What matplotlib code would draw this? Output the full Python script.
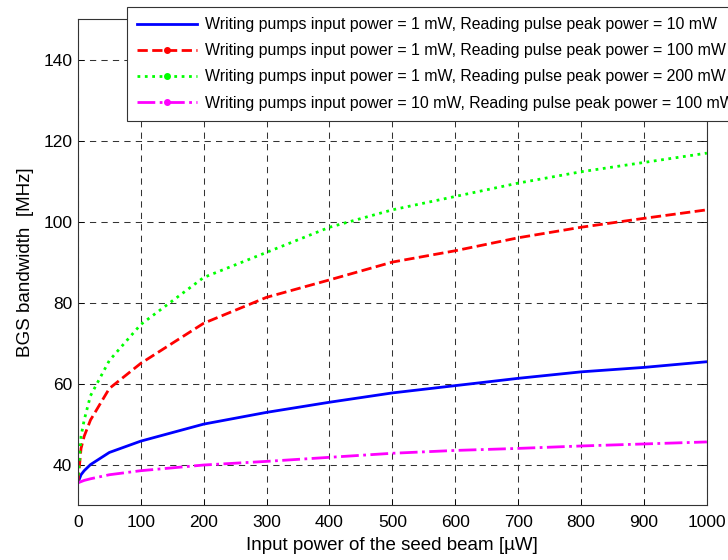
import matplotlib
matplotlib.use("Agg")
import matplotlib.pyplot as plt
from matplotlib.lines import Line2D

plt.rcParams.update({
    'font.family': ['Liberation Sans', 'DejaVu Sans'],
    'font.size': 12,
    'axes.linewidth': 0.8,
    'axes.edgecolor': '#333333',
})

# seed beam input power [uW]
seed_power = [0, 5, 10, 20, 50, 100, 200, 300, 400, 500, 600, 700, 800, 900, 1000]

# BGS bandwidth [MHz] for each pump / reading pulse setting
bw_1mw_10mw = [35.5, 37.5, 38.5, 40.0, 43.0, 45.8, 50.0, 52.9, 55.4, 57.7, 59.5, 61.3, 62.9, 64.0, 65.4]
bw_1mw_100mw = [35.5, 44.0, 47.0, 51.0, 58.8, 65.0, 74.9, 81.3, 85.6, 90.0, 92.8, 96.0, 98.6, 100.8, 102.9]
bw_1mw_200mw = [35.5, 47.0, 51.0, 57.0, 65.7, 74.6, 86.2, 92.4, 98.6, 102.9, 106.2, 109.5, 112.3, 114.6, 116.9]
bw_10mw_100mw = [35.5, 35.8, 36.1, 36.5, 37.5, 38.5, 39.9, 40.8, 41.8, 42.8, 43.5, 44.0, 44.6, 45.1, 45.6]

labels = [
    'Writing pumps input power = 1 mW, Reading pulse peak power = 10 mW',
    'Writing pumps input power = 1 mW, Reading pulse peak power = 100 mW',
    'Writing pumps input power = 1 mW, Reading pulse peak power = 200 mW',
    'Writing pumps input power = 10 mW, Reading pulse peak power = 100 mW',
]

x_ticks = list(range(0, 1001, 100))
y_ticks = [40, 60, 80, 100, 120, 140]

fig = plt.figure(figsize=(7.28, 5.6), dpi=100)
ax = fig.add_axes([0.107, 0.098, 0.864, 0.868])

styles = [
    dict(color='#0000FF', linestyle='-'),
    dict(color='#FF0000', linestyle='--'),
    dict(color='#00FF00', linestyle=':'),
    dict(color='#FF00FF', linestyle='-.'),
]
series = [bw_1mw_10mw, bw_1mw_100mw, bw_1mw_200mw, bw_10mw_100mw]

for values, st in zip(series, styles):
    ax.plot(seed_power, values, linewidth=2.0, **st)

ax.set_xlim(0, 1000)
ax.set_ylim(30, 150)
ax.set_xticks(x_ticks)
ax.set_yticks(y_ticks)
ax.tick_params(direction='in', length=4, width=0.6, top=True, right=True,
               labelsize=12.5)
ax.tick_params(axis='x', pad=7)
ax.tick_params(axis='y', pad=4)
ax.grid(True, color='#333333', linestyle=(0, (6, 5)), linewidth=0.75)
ax.set_axisbelow(True)

ax.set_xlabel('Input power of the seed beam [\u00b5W]', fontsize=13.5, labelpad=5)
ax.set_ylabel('BGS bandwidth  [MHz]', fontsize=13.5, labelpad=7)

# legend handles with a single marker in the middle, MATLAB style
handles = [
    Line2D([], [], linewidth=2.0, **styles[0]),
    Line2D([], [], linewidth=2.0, marker='o', markersize=4, **styles[1]),
    Line2D([], [], linewidth=2.0, marker='o', markersize=4, **styles[2]),
    Line2D([], [], linewidth=2.0, marker='o', markersize=4, **styles[3]),
]
leg = fig.legend(handles, labels, loc='upper left', bbox_to_anchor=(0.1745, 0.9875),
                 borderaxespad=0, fontsize=11.4, handlelength=3.8, handletextpad=0.45,
                 labelspacing=0.7, borderpad=0.65, frameon=True, fancybox=False,
                 framealpha=1, edgecolor='#333333')
leg.get_frame().set_linewidth(0.8)

fig.savefig('out.png', dpi=100)
